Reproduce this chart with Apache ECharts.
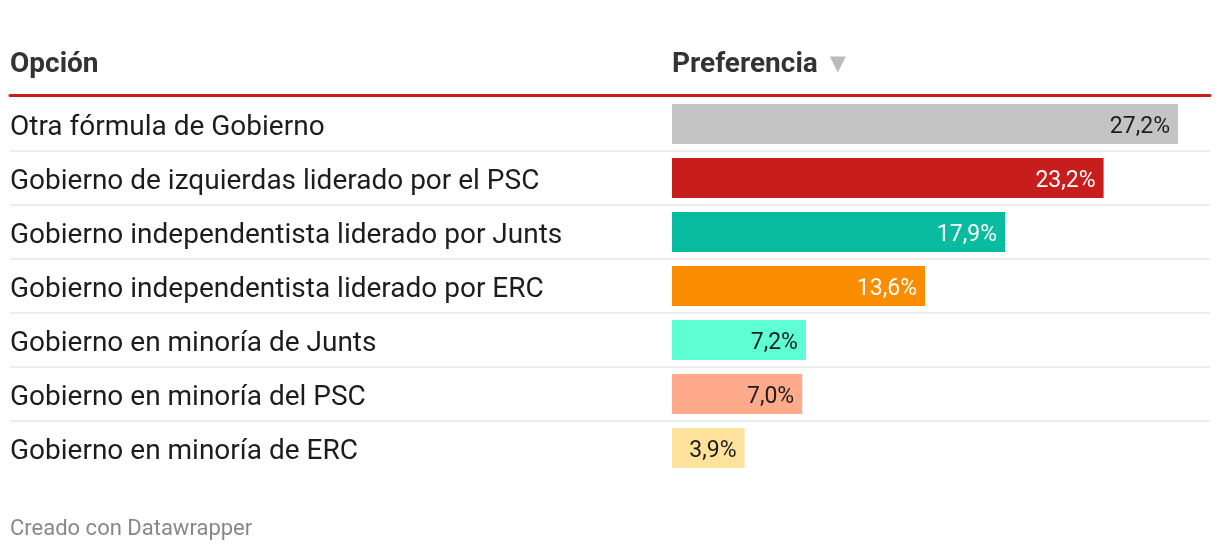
<!DOCTYPE html>
<html>
<head>
<meta charset="utf-8">
<script src="https://cdn.jsdelivr.net/npm/echarts@6/dist/echarts.min.js"></script>
<style>
  html, body { margin: 0; padding: 0; background: #fff; }
  #chart { width: 1220px; height: 550px; }
</style>
</head>
<body>
<div id="chart"></div>
<script>
// datos de la tabla (orden de la imagen)
var opciones = [
    'Otra fórmula de Gobierno',
    'Gobierno de izquierdas liderado por el PSC',
    'Gobierno independentista liderado por Junts',
    'Gobierno independentista liderado por ERC',
    'Gobierno en minoría de Junts',
    'Gobierno en minoría del PSC',
    'Gobierno en minoría de ERC'
];
var preferencia = [27.2, 23.2, 17.9, 13.6, 7.2, 7.0, 3.9];
var colores = ['#c4c4c4', '#c71e1d', '#09bb9f', '#fa8c00', '#5fffd5', '#ffaa8b', '#ffe39c'];
var textoBlanco = [false, true, true, true, false, false, false];

var chart = echarts.init(document.getElementById('chart'));
var fuente = 'Roboto';

option = {
    animation: false,
    textStyle: { fontFamily: fuente },
    title: [
        {
            text: 'Opción',
            left: 10,
            top: 51,
            padding: 0,
            textStyle: { fontFamily: fuente, fontSize: 28, fontWeight: 'bold', color: '#333' }
        },
        {
            text: '{a|Preferencia}{b|▼}',
            left: 672,
            top: 51,
            padding: 0,
            textStyle: {
                rich: {
                    a: { fontFamily: fuente, fontSize: 28, fontWeight: 'bold', color: '#333' },
                    b: { fontFamily: 'DejaVu Sans', fontSize: 21, color: '#bbb', padding: [0, 0, 0, 12] }
                }
            }
        },
        {
            text: 'Creado con Datawrapper',
            left: 10,
            top: 518,
            padding: 0,
            textStyle: { fontFamily: fuente, fontSize: 22, fontWeight: 'normal', color: '#888' }
        }
    ],
    grid: [
        // filas a todo el ancho (separadores y línea roja)
        { left: 10, right: 10, top: 97, height: 378 },
        // barras
        { left: 672, width: 506, top: 97, height: 378 }
    ],
    xAxis: [
        {
            gridIndex: 0, type: 'value', position: 'top', offset: 2,
            axisLine: { show: true, onZero: false, lineStyle: { color: '#c71e1d', width: 3 } },
            axisTick: { show: false }, axisLabel: { show: false }, splitLine: { show: false }
        },
        {
            gridIndex: 1, type: 'value', min: 0, max: 27.2,
            show: false
        }
    ],
    yAxis: [
        {
            gridIndex: 0, type: 'category', inverse: true, data: opciones,
            axisLine: { show: false }, axisTick: { show: false }, axisLabel: { show: false },
            splitLine: {
                show: true, showMinLine: false, showMaxLine: false,
                lineStyle: { color: '#ececec', width: 2 }
            }
        },
        {
            gridIndex: 1, type: 'category', inverse: true, data: opciones,
            axisLine: { show: false }, axisTick: { show: false },
            axisLabel: {
                align: 'left', margin: 662,
                formatter: function (v) { return '{t|' + v + '}'; },
                rich: {
                    t: { fontFamily: fuente, fontSize: 28, color: '#1d1d1d', padding: [7, 0, 0, 0] }
                }
            }
        }
    ],
    series: [
        {
            type: 'bar',
            xAxisIndex: 1,
            yAxisIndex: 1,
            barWidth: 40,
            data: preferencia.map(function (v, i) {
                return {
                    value: v,
                    itemStyle: { color: colores[i] },
                    label: { color: textoBlanco[i] ? '#fff' : '#1d1d1d' }
                };
            }),
            label: {
                show: true,
                position: 'insideRight',
                distance: 8,
                offset: [0, 3],
                fontFamily: fuente,
                fontSize: 23,
                formatter: function (p) {
                    return p.value.toFixed(1).replace('.', ',') + '%';
                }
            }
        }
    ]
};
chart.setOption(option);
</script>
</body>
</html>
